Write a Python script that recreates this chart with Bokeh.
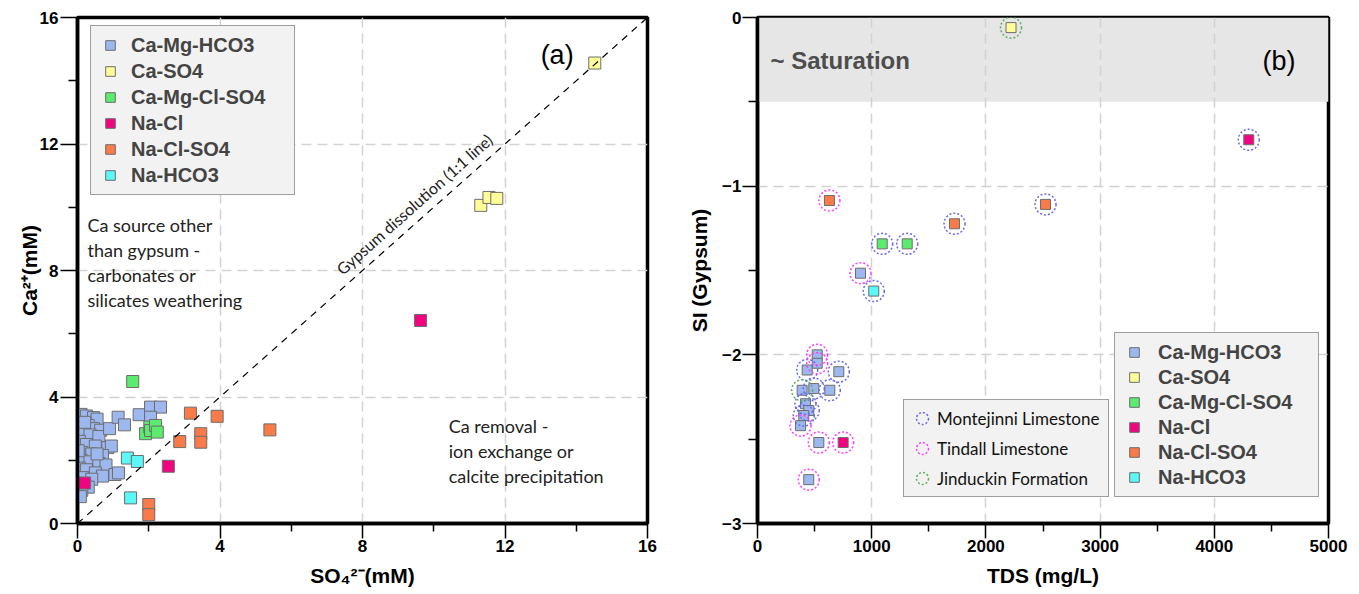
from bokeh.plotting import figure
from bokeh.layouts import row
from bokeh.models import (FixedTicker, Legend, LegendItem, Label, Slope,
                          BoxAnnotation)
from bokeh.embed import file_html
from bokeh.resources import INLINE

# ---------------- data ----------------
TYPES = ["Ca-Mg-HCO3", "Ca-SO4", "Ca-Mg-Cl-SO4", "Na-Cl", "Na-Cl-SO4", "Na-HCO3"]
TYPE_COLORS = ["#9DB8EF", "#FFFF99", "#5BEB6E", "#F0047F", "#F97B4A", "#5CF7F7"]
FORMATIONS = ["Montejinni Limestone", "Tindall Limestone", "Jinduckin Formation"]
FORM_COLORS = ["#6A6AE8", "#FF3DFF", "#5FAF5F"]

# panel (a): SO4 (mM) vs Ca (mM) per water type
hco3_so4 = [0.05, 0.10, 0.25, 0.45, 0.55, 0.08, 0.30, 0.45, 0.65, 0.15, 0.35, 0.60,
            0.05, 0.25, 0.50, 0.85, 0.95, 0.12, 0.40, 0.70, 0.10, 0.35, 0.60, 0.80,
            0.05, 0.25, 0.50, 0.70, 1.05, 1.15, 0.15, 0.40, 0.08, 0.30, 0.12, 0.08,
            0.02, 0.20, 0.90, 0.55, 1.14, 1.32, 1.73, 2.05, 2.33, 2.05]
hco3_ca = [3.30, 3.45, 3.40, 3.35, 3.30, 3.05, 3.10, 3.00, 2.95, 2.85, 2.80, 2.75,
           2.60, 2.50, 2.45, 2.40, 2.45, 2.25, 2.20, 2.15, 2.00, 1.95, 1.90, 1.85,
           1.75, 1.70, 1.60, 1.50, 1.55, 1.60, 1.45, 1.40, 1.20, 1.15, 1.05, 0.85,
           2.30, 3.20, 3.00, 2.20, 3.36, 3.12, 3.44, 3.68, 3.68, 3.36]
caso4_so4 = [14.52, 11.32, 11.55, 11.77]
caso4_ca = [14.56, 10.06, 10.31, 10.28]
camgclso4_so4 = [1.55, 1.91, 2.03, 2.05, 2.19, 2.24]
camgclso4_ca = [4.49, 2.84, 3.05, 2.94, 3.10, 2.89]
nacl_so4 = [0.20, 2.55, 9.63]
nacl_ca = [1.28, 1.81, 6.42]
naclso4_so4 = [3.17, 3.92, 3.46, 3.46, 2.87, 5.40, 2.00, 2.00]
naclso4_ca = [3.49, 3.39, 2.84, 2.57, 2.59, 2.96, 0.60, 0.28]
nahco3_so4 = [1.40, 1.68, 1.49]
nahco3_ca = [2.07, 1.96, 0.81]

A_X = [hco3_so4, caso4_so4, camgclso4_so4, nacl_so4, naclso4_so4, nahco3_so4]
A_Y = [hco3_ca, caso4_ca, camgclso4_ca, nacl_ca, naclso4_ca, nahco3_ca]

# panel (b): TDS (mg/L) vs SI gypsum
tds = [2220, 4302, 630, 2522, 1725, 1092, 1311, 902, 1018, 523, 523, 435, 712,
       391, 493, 633, 420, 449, 405, 377, 537, 750, 449]
si = [-0.06, -0.725, -1.085, -1.108, -1.223, -1.342, -1.342, -1.516, -1.622,
      -2.00, -2.05, -2.09, -2.10, -2.21, -2.20, -2.21, -2.29, -2.33, -2.36,
      -2.42, -2.52, -2.52, -2.74]
wtype = ["Ca-SO4", "Na-Cl", "Na-Cl-SO4", "Na-Cl-SO4", "Na-Cl-SO4", "Ca-Mg-Cl-SO4",
         "Ca-Mg-Cl-SO4", "Ca-Mg-HCO3", "Na-HCO3", "Ca-Mg-HCO3", "Ca-Mg-HCO3",
         "Ca-Mg-HCO3", "Ca-Mg-HCO3", "Ca-Mg-HCO3", "Ca-Mg-HCO3", "Ca-Mg-HCO3",
         "Ca-Mg-HCO3", "Ca-Mg-HCO3", "Ca-Mg-HCO3", "Ca-Mg-HCO3", "Ca-Mg-HCO3",
         "Na-Cl", "Ca-Mg-HCO3"]
formation = ["Jinduckin Formation", "Montejinni Limestone", "Tindall Limestone",
             "Montejinni Limestone", "Montejinni Limestone", "Montejinni Limestone",
             "Montejinni Limestone", "Tindall Limestone", "Montejinni Limestone",
             "Tindall Limestone", "Tindall Limestone", "Montejinni Limestone",
             "Montejinni Limestone", "Jinduckin Formation", "Montejinni Limestone",
             "Montejinni Limestone", "Montejinni Limestone", "Montejinni Limestone",
             "Montejinni Limestone", "Tindall Limestone", "Tindall Limestone",
             "Tindall Limestone", "Tindall Limestone"]

FONT = "Liberation Sans"


def style(p, xt, xm, yt, ym, xg, yg):
    p.xaxis.ticker = FixedTicker(ticks=xt, minor_ticks=xm)
    p.yaxis.ticker = FixedTicker(ticks=yt, minor_ticks=ym)
    p.xgrid.ticker = FixedTicker(ticks=xg)
    p.ygrid.ticker = FixedTicker(ticks=yg)
    for g in (p.xgrid, p.ygrid):
        g.grid_line_color = "#d2d2d2"
        g.grid_line_dash = "10 6"
        g.grid_line_width = 1.5
    for ax in (p.xaxis, p.yaxis):
        ax.axis_line_width = 3.5
        ax.axis_line_color = "black"
        ax.major_tick_line_color = "black"
        ax.minor_tick_line_color = "black"
        ax.major_tick_line_width = 1.5
        ax.minor_tick_line_width = 1.5
        ax.major_tick_in = 0
        ax.minor_tick_in = 0
        ax.major_label_text_font = FONT
        ax.major_label_text_font_style = "bold"
        ax.major_label_text_font_size = "17px"
        ax.major_label_text_color = "black"
        ax.axis_label_text_font = FONT
        ax.axis_label_text_font_style = "bold"
        ax.axis_label_text_font_size = "21px"
        ax.axis_label_text_color = "black"
    p.xaxis.major_tick_out = 15
    p.xaxis.minor_tick_out = 8
    p.yaxis.major_tick_out = 17
    p.yaxis.minor_tick_out = 9
    p.xaxis.major_label_standoff = 1
    p.yaxis.major_label_standoff = 2
    p.xaxis.axis_label_standoff = 9
    p.outline_line_color = "black"
    p.outline_line_width = 3.5
    p.outline_line_alpha = 1


# ---------------- panel (a) ----------------
p1 = figure(width=680, height=592, x_range=(0, 16), y_range=(0, 16),
            output_backend="svg", toolbar_location=None,
            min_border_left=77, min_border_right=33, min_border_top=17,
            min_border_bottom=69, background_fill_color="white")
style(p1, [0, 4, 8, 12, 16], [2, 6, 10, 14], [0, 4, 8, 12, 16], [2, 6, 10, 14],
      [4, 8, 12], [4, 8, 12])
p1.xaxis.axis_label = "SO₄²⁻(mM)"
p1.yaxis.axis_label = "Ca²⁺(mM)"
p1.yaxis.axis_label_standoff = -4

p1.add_layout(Slope(gradient=1, y_intercept=0, line_color="black",
                    line_dash="7 6", line_width=1.2))

items_a = []
for name, col, xs, ys in zip(TYPES, TYPE_COLORS, A_X, A_Y):
    r = p1.scatter(xs, ys, marker="square", size=12, fill_color=col,
                   line_color="#6d6d6d", line_width=1)
    items_a.append(LegendItem(label=name, renderers=[r]))

leg_a = Legend(items=items_a, location=(13, 328), margin=0, padding=7,
               spacing=2, glyph_width=24, glyph_height=24, label_standoff=9,
               label_width=156,
               label_text_font=FONT, label_text_font_style="bold",
               label_text_font_size="20px", label_height=20,
               background_fill_color="#F2F2F2", background_fill_alpha=1,
               border_line_color="#4a4a4a", border_line_width=1.5)
p1.add_layout(leg_a)

p1.add_layout(Label(x=13.0, y=14.8, text="(a)", text_font=FONT,
                    text_font_size="27px", text_baseline="middle",
                    text_color="black"))
p1.add_layout(Label(x=9.45, y=10.1, text="Gypsum dissolution (1:1 line)",
                    angle=0.726, text_align="center", text_baseline="middle",
                    text_font="Lato", text_font_size="16px", text_color="#222222"))
p1.add_layout(Label(x=0.28, y=9.8,
                    text="Ca source other\nthan gypsum -\ncarbonates or\nsilicates weathering",
                    text_baseline="top", text_font="Lato", text_font_size="18px",
                    text_line_height=1.15, text_color="#222222"))
p1.add_layout(Label(x=10.42, y=3.44,
                    text="Ca removal -\nion exchange or\ncalcite precipitation",
                    text_baseline="top", text_font="Lato", text_font_size="18px",
                    text_line_height=1.15, text_color="#222222"))

# ---------------- panel (b) ----------------
p2 = figure(width=677, height=592, x_range=(0, 5000), y_range=(-3, 0),
            output_backend="svg", toolbar_location=None,
            min_border_left=77, min_border_right=29, min_border_top=17,
            min_border_bottom=69, background_fill_color="white")
style(p2, [0, 1000, 2000, 3000, 4000, 5000], [500, 1500, 2500, 3500, 4500],
      [0, -1, -2, -3], [-0.5, -1.5, -2.5], [1000, 2000, 3000, 4000], [-1, -2])
p2.xaxis.axis_label = "TDS (mg/L)"
p2.yaxis.axis_label = "SI (Gypsum)"
p2.yaxis.axis_label_standoff = 8
p2.yaxis.major_tick_out = 15
p2.yaxis.major_label_standoff = 1

p2.add_layout(BoxAnnotation(top=0, bottom=-0.5, fill_color="#E6E6E6",
                            fill_alpha=1, line_alpha=0, level="image"))
p2.add_layout(Label(x=114, y=-0.255, text="~ Saturation", text_font=FONT,
                    text_font_style="bold", text_font_size="24px",
                    text_baseline="middle", text_color="#4d4d4d"))
p2.add_layout(Label(x=4422, y=-0.255, text="(b)", text_font=FONT,
                    text_font_size="27px", text_baseline="middle",
                    text_color="black"))

items_t = []
for name, col in zip(TYPES, TYPE_COLORS):
    idx = [i for i, t in enumerate(wtype) if t == name]
    r = p2.scatter([tds[i] for i in idx], [si[i] for i in idx], marker="square",
                   size=10, fill_color=col, line_color="#6d6d6d", line_width=1)
    items_t.append(LegendItem(label=name, renderers=[r]))

items_f = []
for name, col in zip(FORMATIONS, FORM_COLORS):
    idx = [i for i, f in enumerate(formation) if f == name]
    r = p2.scatter([tds[i] for i in idx], [si[i] for i in idx], marker="circle",
                   size=21, fill_alpha=0, line_color=col, line_width=1.5,
                   line_dash="2 2")
    items_f.append(LegendItem(label=name, renderers=[r]))

leg_f = Legend(items=items_f, location=(146, 26), margin=0, padding=3,
               spacing=0, glyph_width=30, glyph_height=30, label_standoff=0,
               label_width=168,
               label_text_font="Lato", label_text_font_size="17px",
               label_text_color="#111111",
               background_fill_color="#F2F2F2", background_fill_alpha=1,
               border_line_color="#4a4a4a", border_line_width=1.5)
leg_t = Legend(items=items_t, location=(357, 26), margin=0, padding=7,
               spacing=1, glyph_width=24, glyph_height=24, label_standoff=12,
               label_width=153,
               label_text_font=FONT, label_text_font_style="bold",
               label_text_font_size="20px", label_height=20,
               background_fill_color="#F2F2F2", background_fill_alpha=1,
               border_line_color="#4a4a4a", border_line_width=1.5)
p2.add_layout(leg_f)
p2.add_layout(leg_t)

layout = row(p1, p2)
open("out.html", "w").write(file_html(layout, INLINE))
